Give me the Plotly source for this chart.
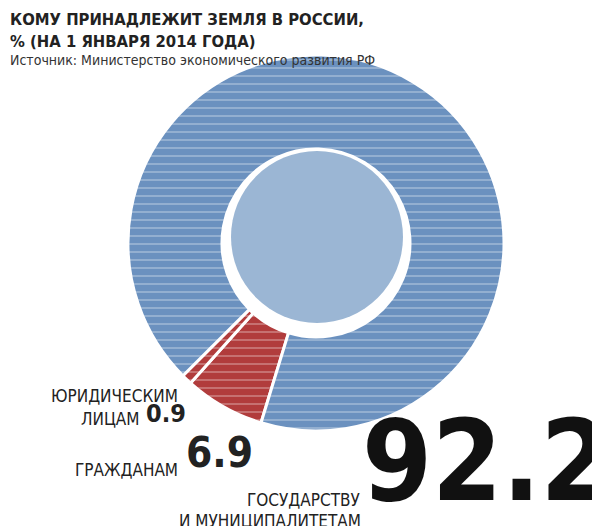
import plotly.graph_objects as go

labels = ["Гражданам", "Юридическим лицам", "Государству и муниципалитетам"]
values = [6.9, 0.9, 92.2]
colors = ["#b13c3c", "#b13c3c", "#6b91bf"]

W, H = 600, 526
cx, cy, R, r_in = 308, 235, 188, 86
cyb = H - cy

fig = go.Figure(go.Pie(
    labels=labels, values=values, sort=False, direction="clockwise", rotation=197,
    hole=0.5, textinfo="none", hoverinfo="label+value", showlegend=False,
    marker=dict(colors=colors, line=dict(color="white", width=3),
                pattern=dict(shape="-", fgcolor="rgba(255,255,255,0.75)", size=8, solidity=0.18,
                             fillmode="overlay")),
    domain=dict(x=[(cx - R) / W, (cx + R) / W], y=[(cyb - R) / H, (cyb + R) / H]),
))
sx, sy = cx + 1, cyb + 6
fig.add_shape(type="circle", xref="paper", yref="paper",
              x0=(sx - r_in) / W, x1=(sx + r_in) / W, y0=(sy - r_in) / H, y1=(sy + r_in) / H,
              fillcolor="#9bb6d4", line=dict(width=0))

cond = "DejaVu Sans Condensed, Liberation Sans Narrow, sans-serif"
def txt(x, y, s, size, bold=False, anchor="left", va="middle", color="#222"):
    fig.add_annotation(x=x / W, y=1 - y / H, xref="paper", yref="paper", text=(f"<b>{s}</b>" if bold else s),
                       showarrow=False, xanchor=anchor, yanchor=va,
                       font=dict(family=cond, size=size, color=color))

txt(0, 12, "КОМУ ПРИНАДЛЕЖИТ ЗЕМЛЯ В РОССИИ,", 16.5, True)
txt(0, 33, "% (НА 1 ЯНВАРЯ 2014 ГОДА)", 16.5, True)
fig.add_annotation(x=0, y=1 - 52 / H, xref="paper", yref="paper", text="Источник: Министерство экономического развития РФ",
                   showarrow=False, xanchor="left", yanchor="middle",
                   font=dict(family="DejaVu Sans Condensed, sans-serif", size=14, color="#333"))
txt(172, 388, "ЮРИДИЧЕСКИМ", 17, anchor="right")
txt(133, 411, "ЛИЦАМ", 17, anchor="right")
txt(136, 405, "0.9", 25, True)
txt(172, 462, "ГРАЖДАНАМ", 17, anchor="right")
txt(176, 444, "6.9", 42, True)
txt(355, 492, "ГОСУДАРСТВУ", 17, anchor="right")
txt(355, 513, "И МУНИЦИПАЛИТЕТАМ", 17, anchor="right")
txt(352, 453, "92.2", 112, True, color="#111")

fig.update_layout(width=W, height=H, margin=dict(l=0, r=0, t=0, b=0),
                  paper_bgcolor="white", plot_bgcolor="white")
fig.write_html("out.html")
